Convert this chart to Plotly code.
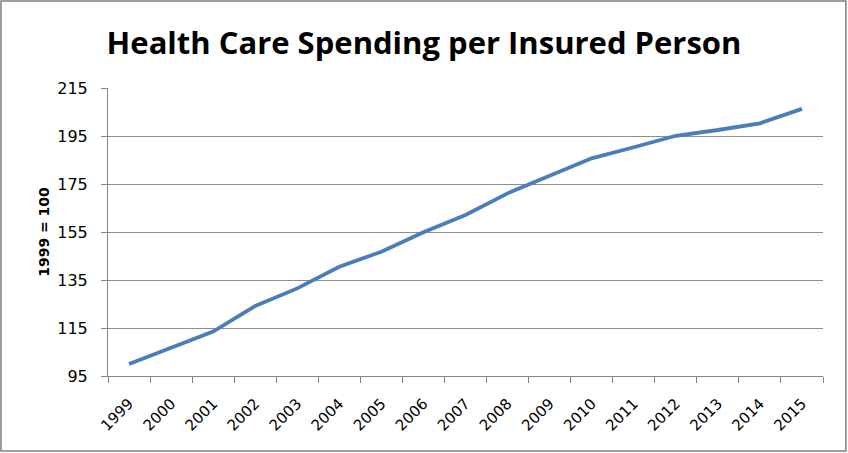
import plotly.graph_objects as go

years = ["1999", "2000", "2001", "2002", "2003", "2004", "2005", "2006", "2007",
         "2008", "2009", "2010", "2011", "2012", "2013", "2014", "2015"]
spending_index = [100, 106.7, 113.5, 124.2, 131.5, 140.5, 146.8, 154.9, 162.1,
                  171.1, 178.3, 185.7, 190.3, 195.1, 197.5, 200.3, 206.3]
y_ticks = [95, 115, 135, 155, 175, 195, 215]

fig = go.Figure()
fig.add_trace(go.Scatter(
    x=years, y=spending_index, mode="lines",
    line=dict(color="#4A7EBB", width=3.8),
    showlegend=False, hoverinfo="x+y",
))

fig.update_layout(
    width=848, height=453,
    margin=dict(l=108, r=25, t=88, b=77, autoexpand=False),
    paper_bgcolor="white", plot_bgcolor="white",
    title=dict(text="<b>Health Care Spending per Insured Person</b>",
               x=0.5, xanchor="center", y=0.905, yanchor="middle",
               font=dict(family="Open Sans", size=31, color="black")),
    xaxis=dict(
        type="category", tickson="boundaries", ticks="outside", ticklen=6,
        range=[-0.5, len(years) - 0.5],
        tickcolor="#868686", showline=True, linecolor="#868686", linewidth=1,
        showgrid=False, tickangle=-45, ticklabelstandoff=12,
        tickfont=dict(family="DejaVu Sans", size=15, color="black"),
    ),
    yaxis=dict(
        range=[95, 215], tickvals=y_ticks, ticks="outside", ticklen=6,
        tickcolor="#868686", showline=True, linecolor="#868686", linewidth=1,
        showgrid=True, gridcolor="#8c8c8c", gridwidth=1, zeroline=False,
        ticklabelstandoff=10,
        tickfont=dict(family="DejaVu Sans", size=16, color="black"),
        title=dict(text="<b>1999 = 100</b>", standoff=4,
                   font=dict(family="DejaVu Sans", size=14, color="black")),
    ),
    shapes=[dict(type="rect", xref="paper", yref="paper",
                 x0=-0.1497, x1=1.032, y0=-0.260, y1=1.302,
                 line=dict(color="#7f7f7f", width=1.5), fillcolor="rgba(0,0,0,0)",
                 layer="below")],
)

fig.write_html("out.html", config={"displayModeBar": False},
               post_script="document.body.style.margin='0px';")
